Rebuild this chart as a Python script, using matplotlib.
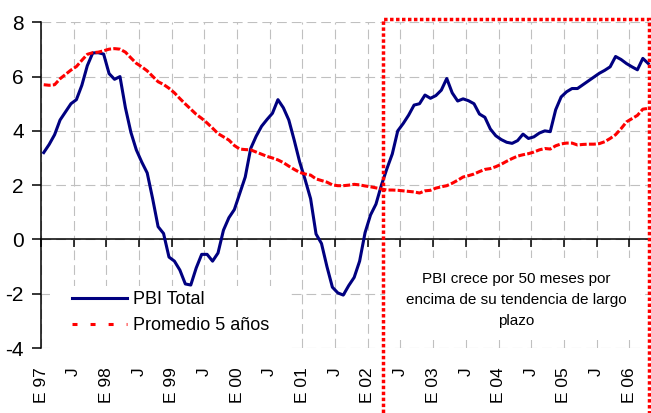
import matplotlib
matplotlib.use("Agg")
import matplotlib.pyplot as plt
from matplotlib.lines import Line2D
from matplotlib.patches import Rectangle
import numpy as np

plt.rcParams['lines.scale_dashes'] = False
plt.rcParams['axes.unicode_minus'] = False
plt.rcParams['font.family'] = ['Liberation Sans', 'DejaVu Sans']

# ---- data (monthly, Jan 1997 .. Apr 2006) ----
pbi_total = [
    3.2, 3.5, 3.86, 4.4, 4.7, 5.0, 5.15, 5.68, 6.4, 6.87, 6.88, 6.83,
    6.11, 5.9, 6.0, 4.85, 3.95, 3.3, 2.85, 2.45, 1.5, 0.47, 0.22, -0.65,
    -0.8, -1.13, -1.64, -1.68, -1.05, -0.55, -0.55, -0.8, -0.5, 0.34, 0.8, 1.1,
    1.7, 2.3, 3.35, 3.8, 4.17, 4.42, 4.65, 5.15, 4.85, 4.4, 3.65, 2.85,
    2.2, 1.5, 0.2, -0.15, -1.0, -1.76, -1.97, -2.05, -1.7, -1.4, -0.8, 0.25,
    0.9, 1.3, 2.0, 2.6, 3.15, 4.0, 4.27, 4.58, 4.95, 5.0, 5.32, 5.2,
    5.3, 5.5, 5.93, 5.4, 5.1, 5.18, 5.11, 5.0, 4.62, 4.5, 4.07, 3.82,
    3.68, 3.58, 3.54, 3.64, 3.88, 3.72, 3.78, 3.92, 4.0, 3.97, 4.78, 5.25,
    5.44, 5.56, 5.56, 5.7, 5.84, 5.98, 6.12, 6.23, 6.36, 6.74, 6.63, 6.48,
    6.36, 6.25, 6.67, 6.48,
]
promedio_5 = [
    5.7, 5.68, 5.7, 5.92, 6.08, 6.24, 6.37, 6.6, 6.82, 6.88, 6.9, 6.95,
    7.01, 7.03, 7.01, 6.9, 6.69, 6.49, 6.36, 6.21, 6.01, 5.81, 5.71, 5.57,
    5.4, 5.19, 4.99, 4.8, 4.61, 4.46, 4.29, 4.1, 3.9, 3.78, 3.66, 3.46,
    3.33, 3.31, 3.3, 3.22, 3.14, 3.06, 3.0, 2.93, 2.83, 2.7, 2.58, 2.47,
    2.41, 2.37, 2.23, 2.17, 2.11, 2.01, 1.98, 1.98, 2.0, 2.03, 2.01, 1.97,
    1.94, 1.9, 1.86, 1.82, 1.82, 1.81, 1.79, 1.77, 1.75, 1.71, 1.79, 1.81,
    1.89, 1.94, 1.98, 2.07, 2.18, 2.3, 2.35, 2.41, 2.5, 2.58, 2.61, 2.68,
    2.77, 2.88, 2.98, 3.07, 3.12, 3.16, 3.22, 3.3, 3.35, 3.33, 3.45, 3.52,
    3.55, 3.55, 3.48, 3.5, 3.51, 3.51, 3.53, 3.6, 3.72, 3.86, 4.08, 4.33,
    4.45, 4.57, 4.8, 4.83,
]
tick_labels = ["E 97", "J", "E 98", "J", "E 99", "J", "E 00", "J", "E 01", "J",
               "E 02", "J", "E 03", "J", "E 04", "J", "E 05", "J", "E 06"]
series_names = ["PBI Total", "Promedio 5 años"]
note_text = "PBI crece por 50 meses por\nencima de su tendencia de largo\nplazo"

BLUE = "#000080"
RED = "#FF0000"
GRID = "#C0C0C0"

n = len(pbi_total)
months = np.arange(n) + 0.5          # Excel "between tick marks" category positions
tick_pos = np.arange(len(tick_labels)) * 6

fig = plt.figure(figsize=(6.51, 4.13), dpi=100)
ax = fig.add_axes([41 / 651, 1 - 348 / 413, 610 / 651, (348 - 22.3) / 413])

ax.plot(months, pbi_total, color=BLUE, lw=2.2, solid_joinstyle='round', zorder=3)
ax.plot(months, promedio_5, color=RED, lw=2.2, dashes=(5, 1.6), zorder=4)

ax.set_xlim(0, 112)
ax.set_ylim(-4, 8)
ax.set_yticks(range(-4, 9, 2))
ax.set_xticks(tick_pos)
ax.grid(True, color=GRID, lw=0.8, linestyle=(0, (7, 3.6)))
ax.set_axisbelow(True)

for s in ("top", "right"):
    ax.spines[s].set_visible(False)
ax.spines['bottom'].set_position(('data', 0))
ax.spines['bottom'].set_linewidth(1.1)
ax.spines['left'].set_linewidth(1.1)
ax.tick_params(axis='x', direction='out', length=6, width=1.1, labelbottom=False)
ax.tick_params(axis='y', direction='out', length=6.5, width=1.1, pad=6)
for lbl in ax.get_yticklabels():
    lbl.set_fontfamily(['Liberation Sans Narrow', 'Liberation Sans'])
    lbl.set_fontsize(15)

sec = ax.secondary_xaxis('bottom')
sec.set_xticks(tick_pos)
sec.set_xticklabels(tick_labels, fontsize=12.5, rotation=90)
sec.tick_params(length=0, pad=14)
sec.spines['bottom'].set_visible(False)

# white backgrounds for note and legend
ax.add_patch(Rectangle((63.15, -3.69), 46.85, 3.0, facecolor='white',
                       edgecolor='none', zorder=1))
ax.add_patch(Rectangle((1.65, -4.1), 43.65, 2.38, facecolor='white',
                       edgecolor='none', zorder=1, clip_on=False))

ax.text(87.3, -2.24, note_text, ha='center', va='center', fontsize=11,
        linespacing=1.65, multialignment='center', zorder=2)

# red dotted highlight box
ax.add_patch(Rectangle((62.8, -7), 111.6 - 62.8, 8.13 + 7, fill=False,
                       edgecolor=RED, lw=2.5, linestyle=(0, (2.5, 1.8)),
                       clip_on=False, zorder=6))

handles = [Line2D([], [], color=BLUE, lw=2.2),
           Line2D([], [], color=RED, lw=2.2, dashes=(3.6, 9.4))]
ax.legend(handles=handles, labels=series_names, loc='upper left',
          bbox_to_anchor=(72 / 651, 1 - 291 / 413), bbox_transform=fig.transFigure,
          frameon=False, fontsize=13, handlelength=3.05, handletextpad=0.35,
          labelspacing=0.5, borderpad=0, borderaxespad=0)

fig.savefig("out.png", dpi=100)
